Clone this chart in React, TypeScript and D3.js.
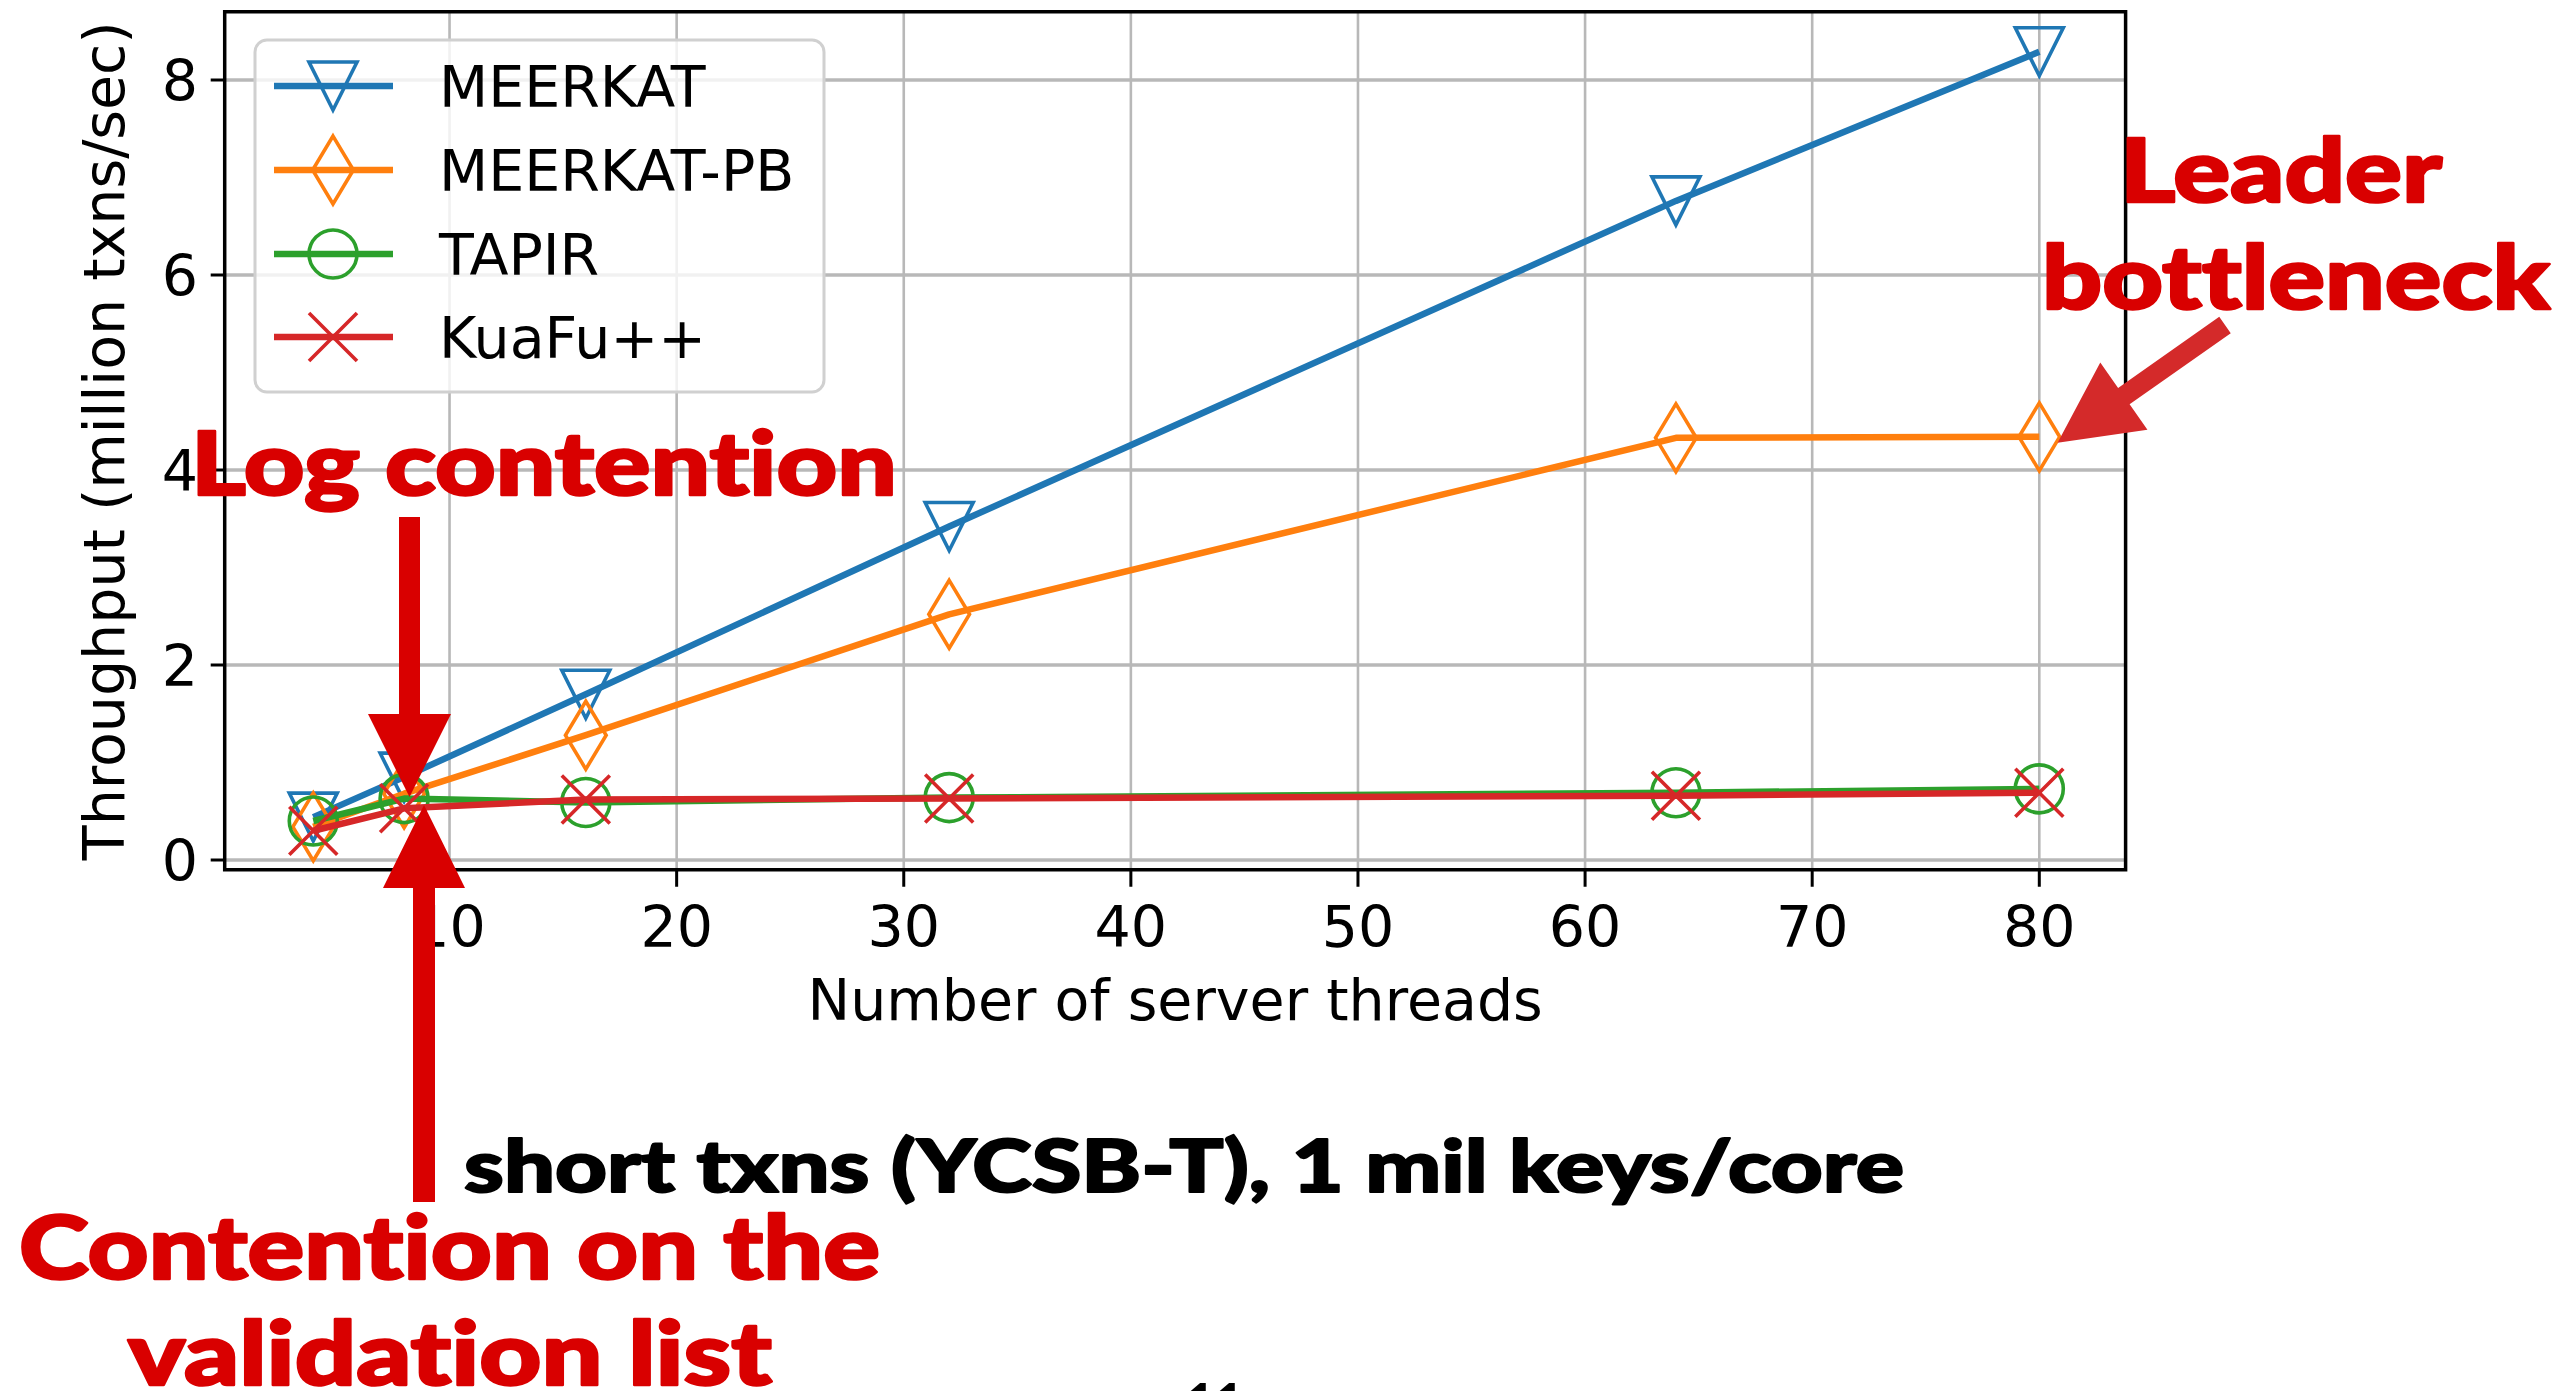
import React from "react";
import * as d3 from "d3";

const threads = [4, 8, 16, 32, 64, 80];
const meerkat = [0.44, 0.85, 1.7, 3.42, 6.76, 8.29];
const meerkatPb = [0.34, 0.68, 1.28, 2.52, 4.33, 4.34];
const tapir = [0.4, 0.63, 0.59, 0.64, 0.69, 0.73];
const kuafu = [0.3, 0.53, 0.62, 0.63, 0.66, 0.69];

const seriesNames = ["MEERKAT", "MEERKAT-PB", "TAPIR", "KuaFu++"];
const seriesColors = ["#1f77b4", "#ff7f0e", "#2ca02c", "#d62728"];
const seriesMarkers = ["triDown", "thinDiamond", "circle", "x"];
const seriesValues = [meerkat, meerkatPb, tapir, kuafu];

const xTicks = [10, 20, 30, 40, 50, 60, 70, 80];
const yTicks = [0, 2, 4, 6, 8];

const W = 2564;
const H = 1391;
const FONT = "'DejaVu Sans', sans-serif";
const BOLD = "Lato, 'Open Sans', sans-serif";
const RED = "#d90000";

const x = d3.scaleLinear().domain([0.1, 83.8]).range([224.7, 2125.6]);
const y = d3.scaleLinear().domain([-0.1, 8.7]).range([869.75, 11.75]);

const MS = 48;

function Marker({ kind, cx, cy, color }) {
  const h = MS / 2;
  const common = { fill: "none", stroke: color, strokeWidth: 3.6 };
  if (kind === "triDown")
    return <path {...common} d={`M${cx - h},${cy - h}L${cx + h},${cy - h}L${cx},${cy + h}Z`} />;
  if (kind === "thinDiamond") {
    const dh = MS * 0.7071;
    const dw = dh * 0.6;
    return <path {...common} d={`M${cx},${cy - dh}L${cx + dw},${cy}L${cx},${cy + dh}L${cx - dw},${cy}Z`} />;
  }
  if (kind === "circle") return <circle {...common} cx={cx} cy={cy} r={h} />;
  return (
    <path {...common} d={`M${cx - h},${cy - h}L${cx + h},${cy + h}M${cx - h},${cy + h}L${cx + h},${cy - h}`} />
  );
}

// block arrow polygon from tail to tip
function arrowPoints(tail, tip, shaftW, headLen, headW) {
  const dx = tip[0] - tail[0];
  const dy = tip[1] - tail[1];
  const len = Math.hypot(dx, dy);
  const ux = dx / len, uy = dy / len;
  const px = -uy, py = ux;
  const bx = tip[0] - ux * headLen, by = tip[1] - uy * headLen;
  const pts = [
    [tail[0] + px * shaftW / 2, tail[1] + py * shaftW / 2],
    [bx + px * shaftW / 2, by + py * shaftW / 2],
    [bx + px * headW / 2, by + py * headW / 2],
    tip,
    [bx - px * headW / 2, by - py * headW / 2],
    [bx - px * shaftW / 2, by - py * shaftW / 2],
    [tail[0] - px * shaftW / 2, tail[1] - py * shaftW / 2],
  ];
  return pts.map((p) => p.join(",")).join(" ");
}

export default function App() {
  const line = d3
    .line<number>()
    .x((d, i) => x(threads[i]))
    .y((d) => y(d));

  const left = x.range()[0];
  const right = x.range()[1];
  const top = y.range()[1];
  const bottom = y.range()[0];

  const legendRows = [86, 170, 254, 337];
  const boldStyle = { fontVariantLigatures: "none", fontFeatureSettings: "'liga' 0" };

  return (
    <svg
      width={W}
      height={H}
      style={{ position: "absolute", left: 0, top: 0, background: "#fff" }}
      fontFamily={FONT}
    >
      <rect width={W} height={H} fill="#fff" />

      {/* grid */}
      {xTicks.map((t) => (
        <line key={"gx" + t} x1={x(t)} x2={x(t)} y1={top} y2={bottom} stroke="#b8b8b8" strokeWidth={2.6} />
      ))}
      {yTicks.map((t) => (
        <line key={"gy" + t} x1={left} x2={right} y1={y(t)} y2={y(t)} stroke="#b8b8b8" strokeWidth={3.4} />
      ))}

      {/* series */}
      {seriesValues.map((vals, si) => (
        <g key={seriesNames[si]}>
          <path d={line(vals)} fill="none" stroke={seriesColors[si]} strokeWidth={6.5} strokeLinejoin="round" />
          {vals.map((v, i) => (
            <Marker key={i} kind={seriesMarkers[si]} cx={x(threads[i])} cy={y(v)} color={seriesColors[si]} />
          ))}
        </g>
      ))}

      {/* frame */}
      <rect x={left} y={top} width={right - left} height={bottom - top} fill="none" stroke="#000" strokeWidth={3.5} />

      {/* ticks */}
      {xTicks.map((t) => (
        <g key={"tx" + t}>
          <line x1={x(t)} x2={x(t)} y1={bottom} y2={bottom + 17} stroke="#000" strokeWidth={3} />
          <text x={x(t)} y={947} textAnchor="middle" fontSize={57}>
            {t}
          </text>
        </g>
      ))}
      {yTicks.map((t) => (
        <g key={"ty" + t}>
          <line x1={left - 14} x2={left} y1={y(t)} y2={y(t)} stroke="#000" strokeWidth={3} />
          <text x={198} y={y(t) + 21} textAnchor="end" fontSize={57}>
            {t}
          </text>
        </g>
      ))}

      <text x={(left + right) / 2} y={1020} textAnchor="middle" fontSize={57}>
        Number of server threads
      </text>
      <text transform={`translate(124,${(top + bottom) / 2}) rotate(-90)`} textAnchor="middle" fontSize={57}>
        Throughput (million txns/sec)
      </text>

      {/* legend */}
      <rect x={255} y={40} width={569} height={352} rx={12} fill="#fff" fillOpacity={0.8} stroke="#d0d0d0" strokeWidth={3} />
      {seriesNames.map((name, si) => (
        <g key={"lg" + name}>
          <line x1={274} x2={393} y1={legendRows[si]} y2={legendRows[si]} stroke={seriesColors[si]} strokeWidth={6.5} />
          <Marker kind={seriesMarkers[si]} cx={333} cy={legendRows[si]} color={seriesColors[si]} />
          <text x={439} y={legendRows[si] + 21} fontSize={57}>
            {name}
          </text>
        </g>
      ))}

      {/* annotations */}
      <g fontFamily={BOLD} fontWeight={900} style={boldStyle} strokeLinejoin="round">
        <text x={191} y={495} fontSize={88} fill={RED} stroke={RED} strokeWidth={2.5} textLength={706} lengthAdjust="spacingAndGlyphs">
          Log contention
        </text>
        <text x={2120} y={202} fontSize={88} fill={RED} stroke={RED} strokeWidth={2.5} textLength={322} lengthAdjust="spacingAndGlyphs">
          Leader
        </text>
        <text x={2042} y={309} fontSize={88} fill={RED} stroke={RED} strokeWidth={2.5} textLength={508} lengthAdjust="spacingAndGlyphs">
          bottleneck
        </text>
        <text x={464} y={1192} fontSize={72} fill="#000" stroke="#000" strokeWidth={2} textLength={1440} lengthAdjust="spacingAndGlyphs">
          short txns (YCSB-T), 1 mil keys/core
        </text>
        <text x={19} y={1279} fontSize={88} fill={RED} stroke={RED} strokeWidth={2.5} textLength={861} lengthAdjust="spacingAndGlyphs">
          Contention on the
        </text>
        <text x={128} y={1385} fontSize={88} fill={RED} stroke={RED} strokeWidth={2.5} textLength={644} lengthAdjust="spacingAndGlyphs">
          validation list
        </text>
        <text x={1215} y={1419} fontSize={50} fill="#000" textAnchor="middle">
          11
        </text>
      </g>

      <polygon points={arrowPoints([409.5, 517], [409.5, 797], 21, 83, 83)} fill={RED} />
      <polygon points={arrowPoints([424, 1202], [424, 805], 22, 83, 82)} fill={RED} />
      <polygon points={arrowPoints([2225, 325], [2057.6, 442.7], 20, 81, 82)} fill="#d42a2a" />
    </svg>
  );
}
